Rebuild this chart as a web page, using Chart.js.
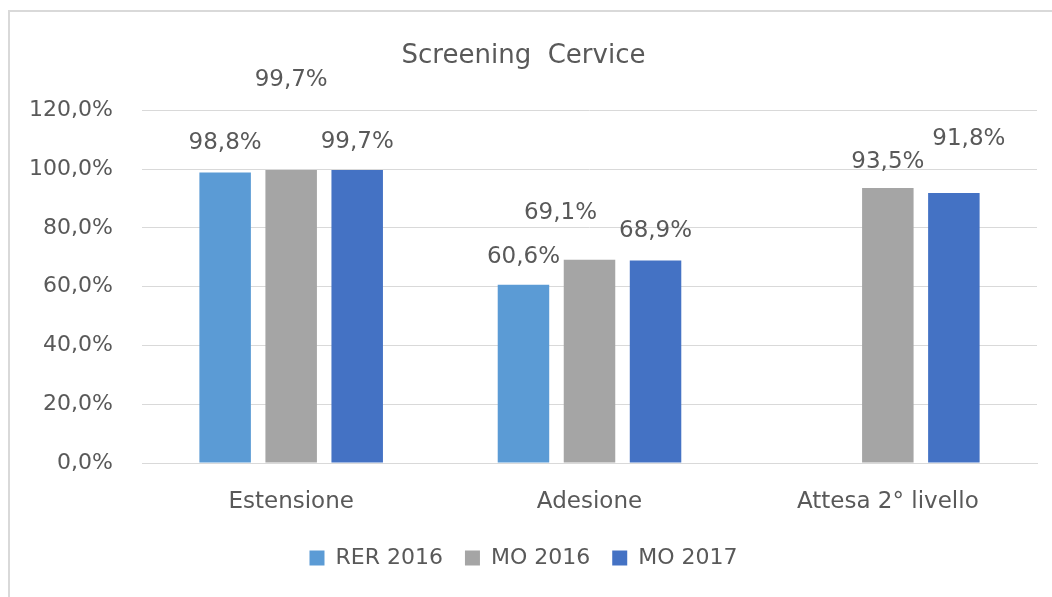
<!DOCTYPE html>
<html>
<head>
<meta charset="utf-8">
<script src="https://cdn.jsdelivr.net/npm/chart.js@4/dist/chart.umd.min.js"></script>
<style>
  html, body { margin: 0; padding: 0; background: #ffffff; }
  #wrap { position: relative; width: 1052px; height: 597px; overflow: hidden; }
  #frame { position: absolute; left: 8px; top: 10px; width: 1200px; height: 700px;
           border-left: 2px solid #D9D9D9; border-top: 2px solid #D9D9D9; }
  #c { position: absolute; left: 0; top: 0; }
</style>
</head>
<body>
<div id="wrap">
  <div id="frame"></div>
  <canvas id="c" width="1052" height="597"></canvas>
</div>
<script>
// ---- Data ----
const categories = ["Estensione", "Adesione", "Attesa 2° livello"];
const seriesNames = ["RER 2016", "MO 2016", "MO 2017"];
const rer2016 = [98.8, 60.6, null];
const mo2016 = [99.7, 69.1, 93.5];
const mo2017 = [99.7, 68.9, 91.8];
const yTicks = [0, 20, 40, 60, 80, 100, 120];

// ---- Styles ----
const colors = ["#5B9BD5", "#A5A5A5", "#4472C4"];
const textColor = "#595959";
const gridColor = "#D9D9D9";
const fontFamily = "'DejaVu Sans', sans-serif";
// label offsets relative to bar top (Excel repositioned overlapping labels)
const labelOffsets = [
  [[0, -29], [0, -28], [0, 0]],
  [[0, -90], [-29, -47], [0, -26]],
  [[0, -28], [0, -29], [15, -54]]
];

function fmt(v) {
  return v.toFixed(1).replace('.', ',') + '%';
}

const dataLabelPlugin = {
  id: 'dataLabels',
  afterDatasetsDraw(chart) {
    const ctx = chart.ctx;
    ctx.save();
    ctx.font = "23px " + fontFamily;
    ctx.fillStyle = textColor;
    ctx.textAlign = 'center';
    ctx.textBaseline = 'middle';
    chart.data.datasets.forEach((ds, di) => {
      const meta = chart.getDatasetMeta(di);
      meta.data.forEach((el, i) => {
        const v = ds.data[i];
        if (v === null || v === undefined) return;
        const off = labelOffsets[di][i];
        ctx.fillText(fmt(v), el.x + off[0], el.y + off[1]);
      });
    });
    ctx.restore();
  }
};

const seriesData = [rer2016, mo2016, mo2017];

new Chart(document.getElementById('c'), {
  type: 'bar',
  data: {
    labels: categories,
    datasets: seriesNames.map((name, i) => ({
      label: name,
      data: seriesData[i],
      backgroundColor: colors[i],
      borderWidth: 0,
      categoryPercentage: 0.664,
      barPercentage: 0.78
    }))
  },
  options: {
    responsive: false,
    animation: false,
    devicePixelRatio: 1,
    layout: { padding: { left: 10, right: 15, top: 0, bottom: 18 } },
    plugins: {
      title: {
        display: true,
        text: 'Screening  Cervice',
        color: textColor,
        font: { family: fontFamily, size: 26, weight: 'normal' },
        padding: { top: 41, bottom: 38 }
      },
      legend: {
        position: 'bottom',
        labels: {
          color: textColor,
          font: { family: fontFamily, size: 22 },
          boxWidth: 15,
          boxHeight: 15,
          padding: 22
        }
      },
      tooltip: { enabled: false }
    },
    scales: {
      x: {
        grid: { display: false, drawTicks: false },
        border: { display: true, color: gridColor, width: 1 },
        ticks: { color: textColor, font: { family: fontFamily, size: 23 }, padding: 25 },
        afterFit(scale) { scale.height = 62; }
      },
      y: {
        min: 0,
        max: 120,
        afterBuildTicks(scale) { scale.ticks = yTicks.map(v => ({ value: v })); },
        grid: { color: gridColor, lineWidth: 1, drawTicks: false },
        border: { display: false },
        ticks: {
          color: textColor,
          font: { family: fontFamily, size: 22 },
          padding: 29,
          callback: (v) => fmt(v)
        },
        afterFit(scale) { scale.width = 132; }
      }
    }
  },
  plugins: [dataLabelPlugin]
});
</script>
</body>
</html>
